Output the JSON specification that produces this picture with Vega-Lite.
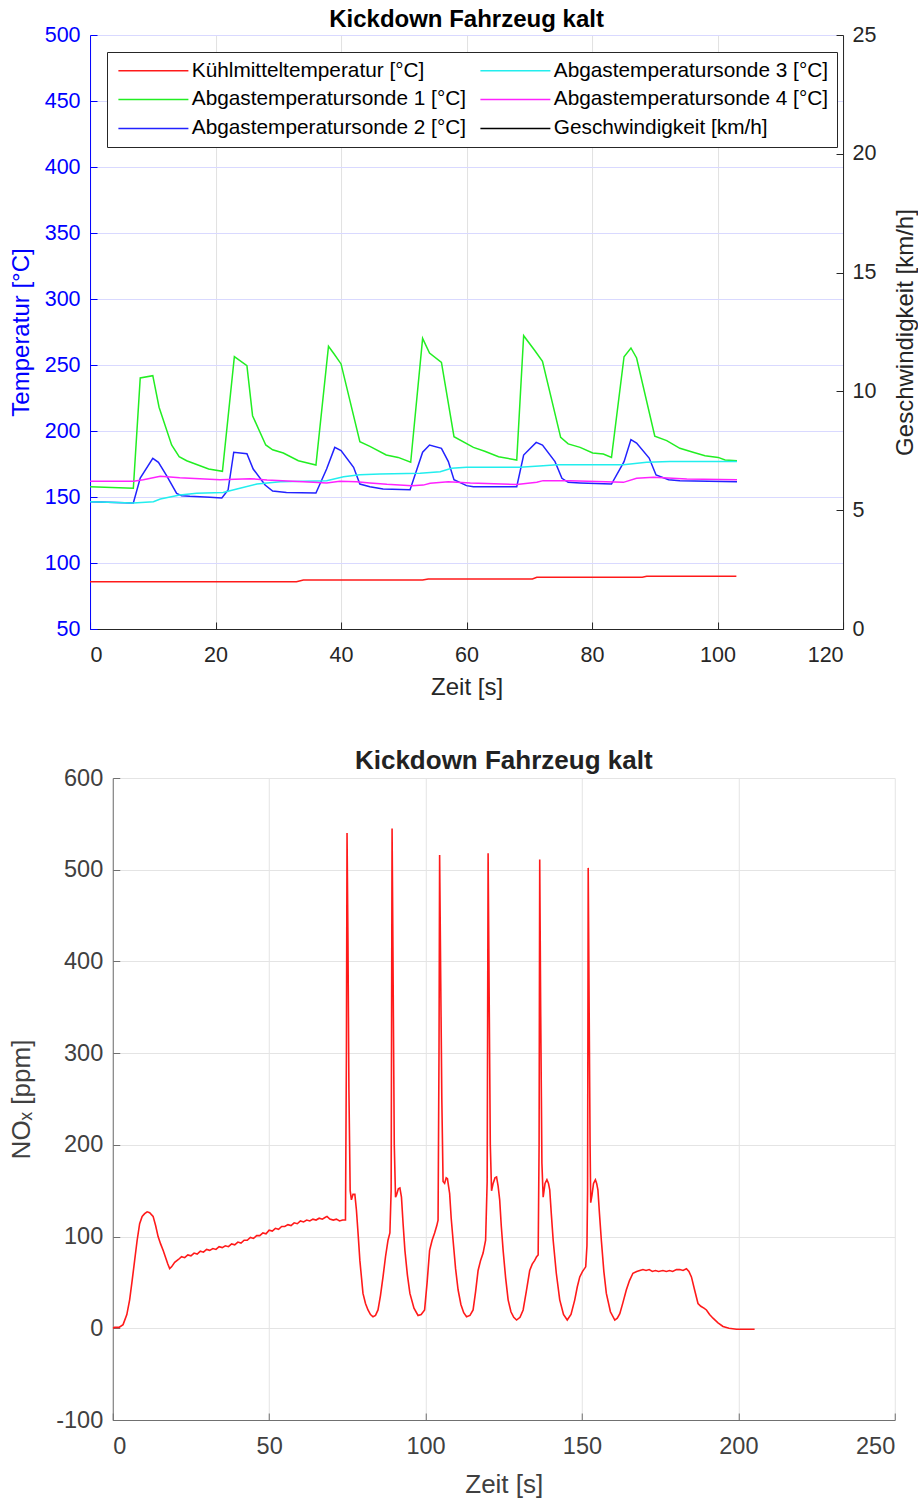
{
  "$schema": "https://vega.github.io/schema/vega-lite/v6.json",
  "padding": {"left": 8, "top": 8, "right": 0, "bottom": 0},
  "background": "white",
  "config": {"font": "Liberation Sans", "view": {"stroke": null}},
  "datasets": {
    "temps": [
      {"t": 0, "v": 85.8, "s": "Kühlmitteltemperatur [°C]"},
      {"t": 32.9, "v": 85.8, "s": "Kühlmitteltemperatur [°C]"},
      {"t": 34, "v": 87.1, "s": "Kühlmitteltemperatur [°C]"},
      {"t": 53, "v": 87.1, "s": "Kühlmitteltemperatur [°C]"},
      {"t": 53.9, "v": 87.9, "s": "Kühlmitteltemperatur [°C]"},
      {"t": 70.5, "v": 87.9, "s": "Kühlmitteltemperatur [°C]"},
      {"t": 71.2, "v": 89.2, "s": "Kühlmitteltemperatur [°C]"},
      {"t": 88, "v": 89.2, "s": "Kühlmitteltemperatur [°C]"},
      {"t": 88.7, "v": 89.9, "s": "Kühlmitteltemperatur [°C]"},
      {"t": 103, "v": 89.9, "s": "Kühlmitteltemperatur [°C]"},

      {"t": 0, "v": 157.8, "s": "Abgastemperatursonde 1 [°C]"},
      {"t": 6.9, "v": 156.6, "s": "Abgastemperatursonde 1 [°C]"},
      {"t": 8.0, "v": 240.2, "s": "Abgastemperatursonde 1 [°C]"},
      {"t": 10.0, "v": 241.9, "s": "Abgastemperatursonde 1 [°C]"},
      {"t": 11.0, "v": 218, "s": "Abgastemperatursonde 1 [°C]"},
      {"t": 13.0, "v": 189.4, "s": "Abgastemperatursonde 1 [°C]"},
      {"t": 14.2, "v": 180.5, "s": "Abgastemperatursonde 1 [°C]"},
      {"t": 15.4, "v": 177.5, "s": "Abgastemperatursonde 1 [°C]"},
      {"t": 18.9, "v": 171.2, "s": "Abgastemperatursonde 1 [°C]"},
      {"t": 21.1, "v": 169.5, "s": "Abgastemperatursonde 1 [°C]"},
      {"t": 23.0, "v": 256.3, "s": "Abgastemperatursonde 1 [°C]"},
      {"t": 25.0, "v": 249.5, "s": "Abgastemperatursonde 1 [°C]"},
      {"t": 25.9, "v": 211.6, "s": "Abgastemperatursonde 1 [°C]"},
      {"t": 28.0, "v": 189.4, "s": "Abgastemperatursonde 1 [°C]"},
      {"t": 29.1, "v": 185.8, "s": "Abgastemperatursonde 1 [°C]"},
      {"t": 30.8, "v": 183.3, "s": "Abgastemperatursonde 1 [°C]"},
      {"t": 33.2, "v": 177.5, "s": "Abgastemperatursonde 1 [°C]"},
      {"t": 36.0, "v": 174.2, "s": "Abgastemperatursonde 1 [°C]"},
      {"t": 38.0, "v": 264.2, "s": "Abgastemperatursonde 1 [°C]"},
      {"t": 38.9, "v": 258.3, "s": "Abgastemperatursonde 1 [°C]"},
      {"t": 40.0, "v": 250.8, "s": "Abgastemperatursonde 1 [°C]"},
      {"t": 43.0, "v": 191.9, "s": "Abgastemperatursonde 1 [°C]"},
      {"t": 44.6, "v": 188.4, "s": "Abgastemperatursonde 1 [°C]"},
      {"t": 47.2, "v": 181.8, "s": "Abgastemperatursonde 1 [°C]"},
      {"t": 49.1, "v": 180.0, "s": "Abgastemperatursonde 1 [°C]"},
      {"t": 51.1, "v": 176.3, "s": "Abgastemperatursonde 1 [°C]"},
      {"t": 53.0, "v": 270.2, "s": "Abgastemperatursonde 1 [°C]"},
      {"t": 54.1, "v": 259.1, "s": "Abgastemperatursonde 1 [°C]"},
      {"t": 56.0, "v": 252.0, "s": "Abgastemperatursonde 1 [°C]"},
      {"t": 58.0, "v": 195.7, "s": "Abgastemperatursonde 1 [°C]"},
      {"t": 61.1, "v": 187.6, "s": "Abgastemperatursonde 1 [°C]"},
      {"t": 62.9, "v": 184.6, "s": "Abgastemperatursonde 1 [°C]"},
      {"t": 65.1, "v": 180.5, "s": "Abgastemperatursonde 1 [°C]"},
      {"t": 68.0, "v": 178.0, "s": "Abgastemperatursonde 1 [°C]"},
      {"t": 69.1, "v": 272.2, "s": "Abgastemperatursonde 1 [°C]"},
      {"t": 70.9, "v": 260.8, "s": "Abgastemperatursonde 1 [°C]"},
      {"t": 72.1, "v": 252.8, "s": "Abgastemperatursonde 1 [°C]"},
      {"t": 75.0, "v": 195.2, "s": "Abgastemperatursonde 1 [°C]"},
      {"t": 76.2, "v": 190.2, "s": "Abgastemperatursonde 1 [°C]"},
      {"t": 78.1, "v": 187.6, "s": "Abgastemperatursonde 1 [°C]"},
      {"t": 80.1, "v": 183.3, "s": "Abgastemperatursonde 1 [°C]"},
      {"t": 81.8, "v": 182.6, "s": "Abgastemperatursonde 1 [°C]"},
      {"t": 83.1, "v": 180.0, "s": "Abgastemperatursonde 1 [°C]"},
      {"t": 85.1, "v": 256.3, "s": "Abgastemperatursonde 1 [°C]"},
      {"t": 86.2, "v": 262.9, "s": "Abgastemperatursonde 1 [°C]"},
      {"t": 87.1, "v": 255.3, "s": "Abgastemperatursonde 1 [°C]"},
      {"t": 90.0, "v": 196.0, "s": "Abgastemperatursonde 1 [°C]"},
      {"t": 91.9, "v": 192.7, "s": "Abgastemperatursonde 1 [°C]"},
      {"t": 94.0, "v": 186.9, "s": "Abgastemperatursonde 1 [°C]"},
      {"t": 96.1, "v": 183.9, "s": "Abgastemperatursonde 1 [°C]"},
      {"t": 98.0, "v": 181.3, "s": "Abgastemperatursonde 1 [°C]"},
      {"t": 100.1, "v": 180.0, "s": "Abgastemperatursonde 1 [°C]"},
      {"t": 101.2, "v": 178.0, "s": "Abgastemperatursonde 1 [°C]"},
      {"t": 103.1, "v": 177.5, "s": "Abgastemperatursonde 1 [°C]"},

      {"t": 0, "v": 146.4, "s": "Abgastemperatursonde 2 [°C]"},
      {"t": 6.9, "v": 145.5, "s": "Abgastemperatursonde 2 [°C]"},
      {"t": 8.0, "v": 164.4, "s": "Abgastemperatursonde 2 [°C]"},
      {"t": 10.0, "v": 179.3, "s": "Abgastemperatursonde 2 [°C]"},
      {"t": 10.9, "v": 176.3, "s": "Abgastemperatursonde 2 [°C]"},
      {"t": 12.2, "v": 166.2, "s": "Abgastemperatursonde 2 [°C]"},
      {"t": 13.8, "v": 152.8, "s": "Abgastemperatursonde 2 [°C]"},
      {"t": 14.6, "v": 151.0, "s": "Abgastemperatursonde 2 [°C]"},
      {"t": 15.9, "v": 150.5, "s": "Abgastemperatursonde 2 [°C]"},
      {"t": 19.1, "v": 149.8, "s": "Abgastemperatursonde 2 [°C]"},
      {"t": 21.0, "v": 149.2, "s": "Abgastemperatursonde 2 [°C]"},
      {"t": 22.0, "v": 155.3, "s": "Abgastemperatursonde 2 [°C]"},
      {"t": 22.9, "v": 183.9, "s": "Abgastemperatursonde 2 [°C]"},
      {"t": 25.0, "v": 182.8, "s": "Abgastemperatursonde 2 [°C]"},
      {"t": 26.0, "v": 171.2, "s": "Abgastemperatursonde 2 [°C]"},
      {"t": 27.9, "v": 159.1, "s": "Abgastemperatursonde 2 [°C]"},
      {"t": 29.1, "v": 154.5, "s": "Abgastemperatursonde 2 [°C]"},
      {"t": 31.3, "v": 153.5, "s": "Abgastemperatursonde 2 [°C]"},
      {"t": 36.0, "v": 153.0, "s": "Abgastemperatursonde 2 [°C]"},
      {"t": 37.7, "v": 171.2, "s": "Abgastemperatursonde 2 [°C]"},
      {"t": 39.0, "v": 187.6, "s": "Abgastemperatursonde 2 [°C]"},
      {"t": 40.0, "v": 185.1, "s": "Abgastemperatursonde 2 [°C]"},
      {"t": 42.0, "v": 172.5, "s": "Abgastemperatursonde 2 [°C]"},
      {"t": 43.0, "v": 159.8, "s": "Abgastemperatursonde 2 [°C]"},
      {"t": 44.6, "v": 157.8, "s": "Abgastemperatursonde 2 [°C]"},
      {"t": 46.7, "v": 156.1, "s": "Abgastemperatursonde 2 [°C]"},
      {"t": 51.0, "v": 155.5, "s": "Abgastemperatursonde 2 [°C]"},
      {"t": 53.0, "v": 183.9, "s": "Abgastemperatursonde 2 [°C]"},
      {"t": 54.1, "v": 189.4, "s": "Abgastemperatursonde 2 [°C]"},
      {"t": 56.0, "v": 186.9, "s": "Abgastemperatursonde 2 [°C]"},
      {"t": 57.1, "v": 176.8, "s": "Abgastemperatursonde 2 [°C]"},
      {"t": 58.0, "v": 163.1, "s": "Abgastemperatursonde 2 [°C]"},
      {"t": 60.0, "v": 158.6, "s": "Abgastemperatursonde 2 [°C]"},
      {"t": 61.1, "v": 157.8, "s": "Abgastemperatursonde 2 [°C]"},
      {"t": 68.0, "v": 157.8, "s": "Abgastemperatursonde 2 [°C]"},
      {"t": 69.1, "v": 181.8, "s": "Abgastemperatursonde 2 [°C]"},
      {"t": 71.1, "v": 191.4, "s": "Abgastemperatursonde 2 [°C]"},
      {"t": 72.1, "v": 189.4, "s": "Abgastemperatursonde 2 [°C]"},
      {"t": 74.1, "v": 176.8, "s": "Abgastemperatursonde 2 [°C]"},
      {"t": 75.2, "v": 164.2, "s": "Abgastemperatursonde 2 [°C]"},
      {"t": 76.2, "v": 161.1, "s": "Abgastemperatursonde 2 [°C]"},
      {"t": 78.1, "v": 160.6, "s": "Abgastemperatursonde 2 [°C]"},
      {"t": 83.1, "v": 159.8, "s": "Abgastemperatursonde 2 [°C]"},
      {"t": 85.1, "v": 176.8, "s": "Abgastemperatursonde 2 [°C]"},
      {"t": 86.2, "v": 193.5, "s": "Abgastemperatursonde 2 [°C]"},
      {"t": 87.1, "v": 190.9, "s": "Abgastemperatursonde 2 [°C]"},
      {"t": 89.1, "v": 179.5, "s": "Abgastemperatursonde 2 [°C]"},
      {"t": 90.2, "v": 166.7, "s": "Abgastemperatursonde 2 [°C]"},
      {"t": 92.2, "v": 163.1, "s": "Abgastemperatursonde 2 [°C]"},
      {"t": 94.0, "v": 162.4, "s": "Abgastemperatursonde 2 [°C]"},
      {"t": 103.1, "v": 161.6, "s": "Abgastemperatursonde 2 [°C]"},

      {"t": 0, "v": 146.4, "s": "Abgastemperatursonde 3 [°C]"},
      {"t": 6.9, "v": 145.5, "s": "Abgastemperatursonde 3 [°C]"},
      {"t": 10.1, "v": 146.4, "s": "Abgastemperatursonde 3 [°C]"},
      {"t": 11.2, "v": 148.5, "s": "Abgastemperatursonde 3 [°C]"},
      {"t": 14.3, "v": 151.5, "s": "Abgastemperatursonde 3 [°C]"},
      {"t": 17.0, "v": 152.8, "s": "Abgastemperatursonde 3 [°C]"},
      {"t": 21.2, "v": 153.5, "s": "Abgastemperatursonde 3 [°C]"},
      {"t": 23.4, "v": 156.1, "s": "Abgastemperatursonde 3 [°C]"},
      {"t": 26.6, "v": 159.8, "s": "Abgastemperatursonde 3 [°C]"},
      {"t": 30.3, "v": 161.6, "s": "Abgastemperatursonde 3 [°C]"},
      {"t": 37.7, "v": 162.4, "s": "Abgastemperatursonde 3 [°C]"},
      {"t": 40.4, "v": 165.4, "s": "Abgastemperatursonde 3 [°C]"},
      {"t": 43.0, "v": 166.9, "s": "Abgastemperatursonde 3 [°C]"},
      {"t": 46.2, "v": 167.4, "s": "Abgastemperatursonde 3 [°C]"},
      {"t": 52.6, "v": 168.0, "s": "Abgastemperatursonde 3 [°C]"},
      {"t": 55.8, "v": 169.2, "s": "Abgastemperatursonde 3 [°C]"},
      {"t": 57.6, "v": 171.7, "s": "Abgastemperatursonde 3 [°C]"},
      {"t": 60.0, "v": 172.5, "s": "Abgastemperatursonde 3 [°C]"},
      {"t": 68.5, "v": 172.5, "s": "Abgastemperatursonde 3 [°C]"},
      {"t": 72.2, "v": 173.7, "s": "Abgastemperatursonde 3 [°C]"},
      {"t": 74.4, "v": 174.5, "s": "Abgastemperatursonde 3 [°C]"},
      {"t": 85.0, "v": 174.5, "s": "Abgastemperatursonde 3 [°C]"},
      {"t": 88.7, "v": 176.3, "s": "Abgastemperatursonde 3 [°C]"},
      {"t": 92.4, "v": 176.8, "s": "Abgastemperatursonde 3 [°C]"},
      {"t": 103.1, "v": 176.8, "s": "Abgastemperatursonde 3 [°C]"},

      {"t": 0, "v": 161.9, "s": "Abgastemperatursonde 4 [°C]"},
      {"t": 6.9, "v": 161.9, "s": "Abgastemperatursonde 4 [°C]"},
      {"t": 8.5, "v": 163.1, "s": "Abgastemperatursonde 4 [°C]"},
      {"t": 11.2, "v": 165.7, "s": "Abgastemperatursonde 4 [°C]"},
      {"t": 14.3, "v": 164.6, "s": "Abgastemperatursonde 4 [°C]"},
      {"t": 20.7, "v": 163.1, "s": "Abgastemperatursonde 4 [°C]"},
      {"t": 25.5, "v": 163.9, "s": "Abgastemperatursonde 4 [°C]"},
      {"t": 28.2, "v": 162.9, "s": "Abgastemperatursonde 4 [°C]"},
      {"t": 35.6, "v": 161.1, "s": "Abgastemperatursonde 4 [°C]"},
      {"t": 37.7, "v": 160.6, "s": "Abgastemperatursonde 4 [°C]"},
      {"t": 39.8, "v": 161.9, "s": "Abgastemperatursonde 4 [°C]"},
      {"t": 42.5, "v": 161.6, "s": "Abgastemperatursonde 4 [°C]"},
      {"t": 44.6, "v": 160.6, "s": "Abgastemperatursonde 4 [°C]"},
      {"t": 47.3, "v": 159.6, "s": "Abgastemperatursonde 4 [°C]"},
      {"t": 51.3, "v": 158.6, "s": "Abgastemperatursonde 4 [°C]"},
      {"t": 53.1, "v": 159.0, "s": "Abgastemperatursonde 4 [°C]"},
      {"t": 54.2, "v": 160.4, "s": "Abgastemperatursonde 4 [°C]"},
      {"t": 57.1, "v": 161.6, "s": "Abgastemperatursonde 4 [°C]"},
      {"t": 60.6, "v": 160.6, "s": "Abgastemperatursonde 4 [°C]"},
      {"t": 68.0, "v": 159.4, "s": "Abgastemperatursonde 4 [°C]"},
      {"t": 71.2, "v": 161.1, "s": "Abgastemperatursonde 4 [°C]"},
      {"t": 72.2, "v": 162.4, "s": "Abgastemperatursonde 4 [°C]"},
      {"t": 76.5, "v": 162.4, "s": "Abgastemperatursonde 4 [°C]"},
      {"t": 85.0, "v": 161.1, "s": "Abgastemperatursonde 4 [°C]"},
      {"t": 87.1, "v": 164.2, "s": "Abgastemperatursonde 4 [°C]"},
      {"t": 89.8, "v": 165.0, "s": "Abgastemperatursonde 4 [°C]"},
      {"t": 95.1, "v": 163.6, "s": "Abgastemperatursonde 4 [°C]"},
      {"t": 103.1, "v": 163.1, "s": "Abgastemperatursonde 4 [°C]"}
    ],
    "nox": [
      {"t": 0, "v": 0}, {"t": 0.6, "v": 1}, {"t": 2, "v": 1}, {"t": 3.3, "v": 4}, {"t": 4.5, "v": 15},
      {"t": 5.4, "v": 31}, {"t": 6.2, "v": 52}, {"t": 7, "v": 74}, {"t": 7.8, "v": 96}, {"t": 8.6, "v": 114},
      {"t": 9.4, "v": 122}, {"t": 10.2, "v": 125}, {"t": 11, "v": 127}, {"t": 11.8, "v": 126}, {"t": 12.9, "v": 122},
      {"t": 13.7, "v": 112}, {"t": 14.5, "v": 100}, {"t": 15.3, "v": 92}, {"t": 16.1, "v": 85}, {"t": 17, "v": 76},
      {"t": 17.6, "v": 70}, {"t": 18.2, "v": 65}, {"t": 18.8, "v": 67}, {"t": 19.8, "v": 72}, {"t": 21, "v": 75},
      {"t": 22, "v": 78}, {"t": 23, "v": 77}, {"t": 24, "v": 80}, {"t": 25, "v": 79}, {"t": 26, "v": 82},
      {"t": 27, "v": 81}, {"t": 28, "v": 84}, {"t": 29, "v": 83}, {"t": 30, "v": 86}, {"t": 31, "v": 85},
      {"t": 32, "v": 87}, {"t": 33, "v": 86}, {"t": 34, "v": 89}, {"t": 35, "v": 88}, {"t": 36, "v": 90},
      {"t": 37, "v": 89}, {"t": 38, "v": 92}, {"t": 39, "v": 91}, {"t": 40, "v": 94}, {"t": 41, "v": 93},
      {"t": 42, "v": 96}, {"t": 43, "v": 96}, {"t": 44, "v": 99}, {"t": 45, "v": 98}, {"t": 46, "v": 101},
      {"t": 47, "v": 101}, {"t": 48, "v": 104}, {"t": 49, "v": 103}, {"t": 50, "v": 107}, {"t": 51, "v": 106},
      {"t": 52, "v": 109}, {"t": 53, "v": 108}, {"t": 54, "v": 111}, {"t": 55, "v": 111}, {"t": 56, "v": 113},
      {"t": 57, "v": 112}, {"t": 58, "v": 115}, {"t": 59, "v": 114}, {"t": 60, "v": 117}, {"t": 61, "v": 116},
      {"t": 62, "v": 118}, {"t": 63, "v": 117}, {"t": 64, "v": 119}, {"t": 65, "v": 118}, {"t": 66, "v": 120},
      {"t": 67, "v": 119}, {"t": 68, "v": 121}, {"t": 68.5, "v": 122}, {"t": 69.4, "v": 119}, {"t": 70.5, "v": 118},
      {"t": 71.5, "v": 119}, {"t": 72.5, "v": 117}, {"t": 73.5, "v": 118}, {"t": 74.4, "v": 118}, {"t": 74.7, "v": 300},
      {"t": 74.9, "v": 540}, {"t": 75.2, "v": 420}, {"t": 75.5, "v": 260}, {"t": 75.9, "v": 150}, {"t": 76.3, "v": 140},
      {"t": 76.8, "v": 146}, {"t": 77.4, "v": 146}, {"t": 77.9, "v": 129}, {"t": 78.5, "v": 100}, {"t": 79, "v": 74},
      {"t": 80, "v": 38}, {"t": 80.8, "v": 27}, {"t": 81.6, "v": 20}, {"t": 82.4, "v": 15}, {"t": 83.2, "v": 12.6},
      {"t": 84, "v": 14}, {"t": 84.8, "v": 20}, {"t": 85.6, "v": 36}, {"t": 86.4, "v": 56}, {"t": 87.2, "v": 78},
      {"t": 88, "v": 96}, {"t": 88.6, "v": 104}, {"t": 89.0, "v": 150}, {"t": 89.3, "v": 545}, {"t": 89.6, "v": 400},
      {"t": 90, "v": 200}, {"t": 90.4, "v": 143}, {"t": 90.7, "v": 145}, {"t": 91.3, "v": 152}, {"t": 91.8, "v": 153},
      {"t": 92.3, "v": 143}, {"t": 92.8, "v": 115}, {"t": 93.4, "v": 85}, {"t": 94.2, "v": 58}, {"t": 95, "v": 38},
      {"t": 96.3, "v": 22}, {"t": 97.6, "v": 14}, {"t": 98.6, "v": 15}, {"t": 99.7, "v": 20}, {"t": 100.5, "v": 50},
      {"t": 101.3, "v": 85}, {"t": 102.1, "v": 96}, {"t": 102.9, "v": 104}, {"t": 103.6, "v": 112}, {"t": 104.0, "v": 118},
      {"t": 104.3, "v": 300}, {"t": 104.5, "v": 516}, {"t": 104.8, "v": 400}, {"t": 105.2, "v": 250}, {"t": 105.6, "v": 160},
      {"t": 106.1, "v": 158}, {"t": 106.6, "v": 164}, {"t": 107, "v": 163}, {"t": 107.7, "v": 147}, {"t": 108.2, "v": 120},
      {"t": 108.8, "v": 96}, {"t": 109.6, "v": 65}, {"t": 110.4, "v": 42}, {"t": 111.3, "v": 26}, {"t": 112.2, "v": 17},
      {"t": 113.1, "v": 12.6}, {"t": 114.2, "v": 14}, {"t": 115.2, "v": 20}, {"t": 116, "v": 40}, {"t": 116.8, "v": 63},
      {"t": 117.6, "v": 74}, {"t": 118.4, "v": 82}, {"t": 119.2, "v": 96}, {"t": 119.7, "v": 160}, {"t": 120, "v": 518},
      {"t": 120.3, "v": 380}, {"t": 120.7, "v": 200}, {"t": 121.1, "v": 150}, {"t": 121.6, "v": 158}, {"t": 122.2, "v": 164},
      {"t": 122.7, "v": 165}, {"t": 123.2, "v": 155}, {"t": 123.7, "v": 140}, {"t": 124.2, "v": 112}, {"t": 124.8, "v": 85},
      {"t": 125.6, "v": 55}, {"t": 126.4, "v": 31}, {"t": 127.3, "v": 18}, {"t": 128.2, "v": 12}, {"t": 129.1, "v": 9},
      {"t": 130.2, "v": 12}, {"t": 131.2, "v": 20}, {"t": 132.2, "v": 40}, {"t": 133.3, "v": 63}, {"t": 134.1, "v": 70},
      {"t": 134.9, "v": 74}, {"t": 135.5, "v": 78}, {"t": 136, "v": 80}, {"t": 136.3, "v": 200}, {"t": 136.5, "v": 511},
      {"t": 136.8, "v": 350}, {"t": 137.2, "v": 180}, {"t": 137.6, "v": 143}, {"t": 138.2, "v": 158}, {"t": 138.8, "v": 162},
      {"t": 139.3, "v": 158}, {"t": 139.7, "v": 151}, {"t": 140.2, "v": 125}, {"t": 140.8, "v": 96}, {"t": 141.8, "v": 60},
      {"t": 142.9, "v": 31}, {"t": 144.1, "v": 15}, {"t": 145.3, "v": 9}, {"t": 146.5, "v": 15}, {"t": 147.7, "v": 31},
      {"t": 148.5, "v": 45}, {"t": 149.3, "v": 56}, {"t": 150.2, "v": 62}, {"t": 151.2, "v": 67}, {"t": 151.6, "v": 90},
      {"t": 151.8, "v": 150}, {"t": 152.0, "v": 502}, {"t": 152.3, "v": 350}, {"t": 152.6, "v": 200}, {"t": 152.8, "v": 137},
      {"t": 153.2, "v": 145}, {"t": 153.7, "v": 158}, {"t": 154.3, "v": 162}, {"t": 154.7, "v": 158}, {"t": 155.1, "v": 151},
      {"t": 155.6, "v": 125}, {"t": 156.2, "v": 96}, {"t": 157, "v": 62}, {"t": 157.8, "v": 38}, {"t": 159.1, "v": 18},
      {"t": 160.5, "v": 9}, {"t": 161.3, "v": 11}, {"t": 162.1, "v": 16}, {"t": 163.1, "v": 28}, {"t": 164.2, "v": 42},
      {"t": 165.2, "v": 52}, {"t": 166.3, "v": 60}, {"t": 167.5, "v": 62}, {"t": 168.5, "v": 63}, {"t": 169.5, "v": 64},
      {"t": 170.5, "v": 63}, {"t": 171.5, "v": 64}, {"t": 172.5, "v": 62}, {"t": 173.5, "v": 63}, {"t": 174.5, "v": 62},
      {"t": 175.9, "v": 63}, {"t": 177, "v": 62}, {"t": 178, "v": 63}, {"t": 179, "v": 62}, {"t": 180.2, "v": 64},
      {"t": 181.3, "v": 64}, {"t": 182.3, "v": 63}, {"t": 183.4, "v": 65}, {"t": 184.2, "v": 62}, {"t": 185, "v": 56},
      {"t": 186, "v": 42}, {"t": 187.1, "v": 27}, {"t": 188, "v": 24}, {"t": 189, "v": 22}, {"t": 189.8, "v": 20},
      {"t": 190.8, "v": 15}, {"t": 191.9, "v": 11}, {"t": 193.5, "v": 6}, {"t": 195.1, "v": 2}, {"t": 197, "v": 0},
      {"t": 199.4, "v": -1}, {"t": 202, "v": -1}, {"t": 205.2, "v": -1}
    ]
  },
  "vconcat": [
    {
      "width": 753,
      "height": 594,
      "title": {"text": "Kickdown Fahrzeug kalt", "fontSize": 24, "fontWeight": "bold", "color": "#000000", "frame": "group", "anchor": "middle", "offset": -8},
      "layer": [
        {
          "data": {"name": "temps"},
          "mark": {"type": "line", "strokeWidth": 1.5, "clip": true},
          "encoding": {
            "x": {
              "field": "t", "type": "quantitative",
              "scale": {"domain": [0, 120], "nice": false},
              "axis": {"values": [0, 20, 40, 60, 80, 100, 120], "title": "Zeit [s]", "titleFontSize": 24, "titleFontWeight": "normal", "titleColor": "#262626", "labelFontSize": 21.5, "labelColor": "#262626", "domainColor": "#262626", "gridColor": "#e2e2e2", "ticks": true, "tickSize": -7, "tickColor": "#262626", "labelPadding": 22, "titlePadding": 10}
            },
            "y": {
              "field": "v", "type": "quantitative",
              "scale": {"domain": [50, 500], "nice": false, "zero": false},
              "axis": {"values": [50, 100, 150, 200, 250, 300, 350, 400, 450, 500], "title": "Temperatur [°C]", "titleFontSize": 24, "titleFontWeight": "normal", "titleColor": "#0000ff", "labelFontSize": 21.5, "labelColor": "#0000ff", "domainColor": "#0000ff", "gridColor": "#d9d9ff", "ticks": true, "tickSize": -7, "tickColor": "#0000ff", "labelPadding": 17, "titlePadding": 11}
            },
            "color": {
              "field": "s", "type": "nominal",
              "scale": {
                "domain": ["Kühlmitteltemperatur [°C]", "Abgastemperatursonde 1 [°C]", "Abgastemperatursonde 2 [°C]", "Abgastemperatursonde 3 [°C]", "Abgastemperatursonde 4 [°C]", "Geschwindigkeit [km/h]"],
                "range": ["#ff1a1a", "#22ee22", "#2222ff", "#22eeee", "#ff22ff", "#000000"]
              },
              "legend": {"title": null, "orient": "top-left", "offset": 17, "columns": 2, "columnPadding": 10, "rowPadding": 7, "padding": 8, "labelFontSize": 20.8, "labelColor": "#000000", "labelLimit": 0, "labelOffset": 56, "symbolType": "M-1,0H9", "symbolSize": 196, "symbolStrokeWidth": 1.5, "strokeColor": "#262626", "fillColor": "#ffffff"}
            }
          }
        },
        {
          "data": {"values": []},
          "mark": {"type": "line"},
          "encoding": {
            "x": {"field": "t", "type": "quantitative"},
            "y": {
              "field": "spd", "type": "quantitative",
              "scale": {"domain": [0, 25], "nice": false},
              "axis": {"orient": "right", "values": [0, 5, 10, 15, 20, 25], "title": "Geschwindigkeit [km/h]", "titleAngle": -90, "titleBaseline": "top", "titleFontSize": 24, "titleFontWeight": "normal", "titleColor": "#262626", "labelFontSize": 21.5, "labelColor": "#262626", "domainColor": "#262626", "grid": false, "ticks": true, "tickSize": -7, "tickColor": "#262626", "labelPadding": 16, "titlePadding": 18}
            }
          }
        }
      ],
      "resolve": {"scale": {"y": "independent"}}
    },
    {
      "width": 782,
      "height": 642,
      "title": {"text": "Kickdown Fahrzeug kalt", "fontSize": 26, "fontWeight": "bold", "color": "#222222", "frame": "group", "anchor": "middle", "offset": -8},
      "data": {"name": "nox"},
      "mark": {"type": "line", "strokeWidth": 1.6, "color": "#ff1a1a", "clip": true},
      "encoding": {
        "x": {
          "field": "t", "type": "quantitative",
          "scale": {"domain": [0, 250], "nice": false},
          "axis": {"values": [0, 50, 100, 150, 200, 250], "title": "Zeit [s]", "titleFontSize": 26, "titleFontWeight": "normal", "titleColor": "#404040", "labelFontSize": 23.5, "labelColor": "#404040", "domainColor": "#707070", "gridColor": "#e4e4e4", "ticks": true, "tickSize": -7, "tickColor": "#707070", "labelPadding": 21, "titlePadding": 14}
        },
        "y": {
          "field": "v", "type": "quantitative",
          "scale": {"domain": [-100, 600], "nice": false, "zero": false},
          "axis": {"values": [-100, 0, 100, 200, 300, 400, 500, 600], "labelExpr": "'' + datum.value", "title": "NOₓ [ppm]", "titleFontSize": 26, "titleFontWeight": "normal", "titleColor": "#404040", "labelFontSize": 23.5, "labelColor": "#404040", "domainColor": "#707070", "gridColor": "#e4e4e4", "ticks": true, "tickSize": -7, "tickColor": "#707070", "labelPadding": 17, "titlePadding": 21}
        }
      }
    }
  ],
  "center": true,
  "spacing": 48
}
